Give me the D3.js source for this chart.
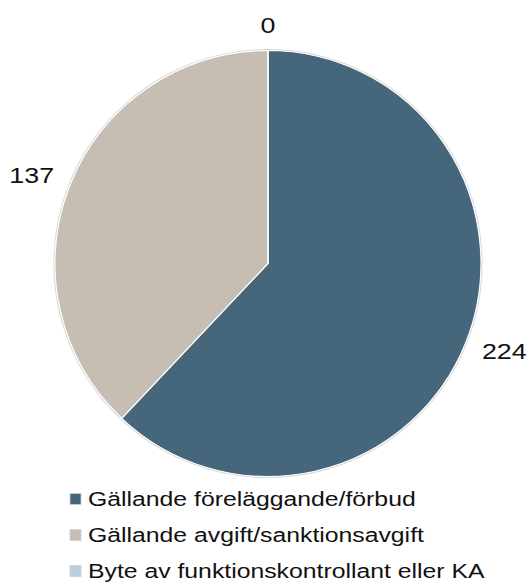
<!DOCTYPE html>
<html>
<head>
<meta charset="utf-8">
<script src="https://cdn.jsdelivr.net/npm/d3@7"></script>
<style>
  html, body { margin: 0; padding: 0; background: #fff; }
  svg { display: block; }
  text { font-family: "Liberation Sans", Arial, sans-serif; fill: #111; }
</style>
</head>
<body>
<svg id="chart" width="527" height="583"></svg>
<script>
const categories = [
  "Gällande föreläggande/förbud",
  "Gällande avgift/sanktionsavgift",
  "Byte av funktionskontrollant eller KA"
];
const values = [224, 137, 0];
const colors = ["#46667c", "#c6beb2", "#b9d0e1"];

const W = 527, H = 583;
const cx = 268, cy = 263.5, R = 213;
const xStretch = 1.22;
const legendStretch = 1.18;

const svg = d3.select("#chart");
const data = categories.map((c, i) => ({ name: c, value: values[i], color: colors[i] }));

const pie = d3.pie().value(d => d.value).sort(null);
const arcs = pie(data);
const arc = d3.arc().innerRadius(0).outerRadius(R);

const g = svg.append("g").attr("transform", `translate(${cx},${cy})`);

// subtle edge shadow
g.append("circle").attr("r", R + 0.8).attr("fill", "none")
  .attr("stroke", "#d8d8d8").attr("stroke-width", 1.6);

g.selectAll("path.slice").data(arcs).enter().append("path")
  .attr("class", "slice")
  .attr("d", arc)
  .attr("fill", d => d.data.color)
  .attr("stroke", "#fff")
  .attr("stroke-width", 1.2);

// value labels outside end
const gap = 20;
arcs.forEach(d => {
  const a = (d.startAngle + d.endAngle) / 2;
  const s = Math.sin(a), c = -Math.cos(a);
  const txt = String(d.data.value);
  const fs = 22;
  const tw = txt.length * 0.556 * fs * xStretch * 0.95;
  const th = 0.45 * fs;
  const x = (R + gap) * s + s * tw / 2;
  const y = (R + gap) * c + c * th / 2;
  g.append("text")
    .attr("transform", `translate(${x},${y}) scale(${xStretch},1)`)
    .attr("text-anchor", "middle")
    .attr("dy", "0.35em")
    .attr("font-size", fs)
    .text(txt);
});

// legend
const legend = svg.append("g");
const rowY = d3.scalePoint().domain(categories).range([499, 571]);
categories.forEach((c, i) => {
  const y = rowY(c);
  legend.append("rect")
    .attr("x", 70).attr("y", y - 5.5).attr("width", 11).attr("height", 11)
    .attr("fill", colors[i]).attr("stroke", "#cfcfcf").attr("stroke-width", 0.8);
  legend.append("text")
    .attr("transform", `translate(88,${y}) scale(${legendStretch},1)`)
    .attr("dy", "0.35em")
    .attr("font-size", 21)
    .text(c);
});
</script>
</body>
</html>
